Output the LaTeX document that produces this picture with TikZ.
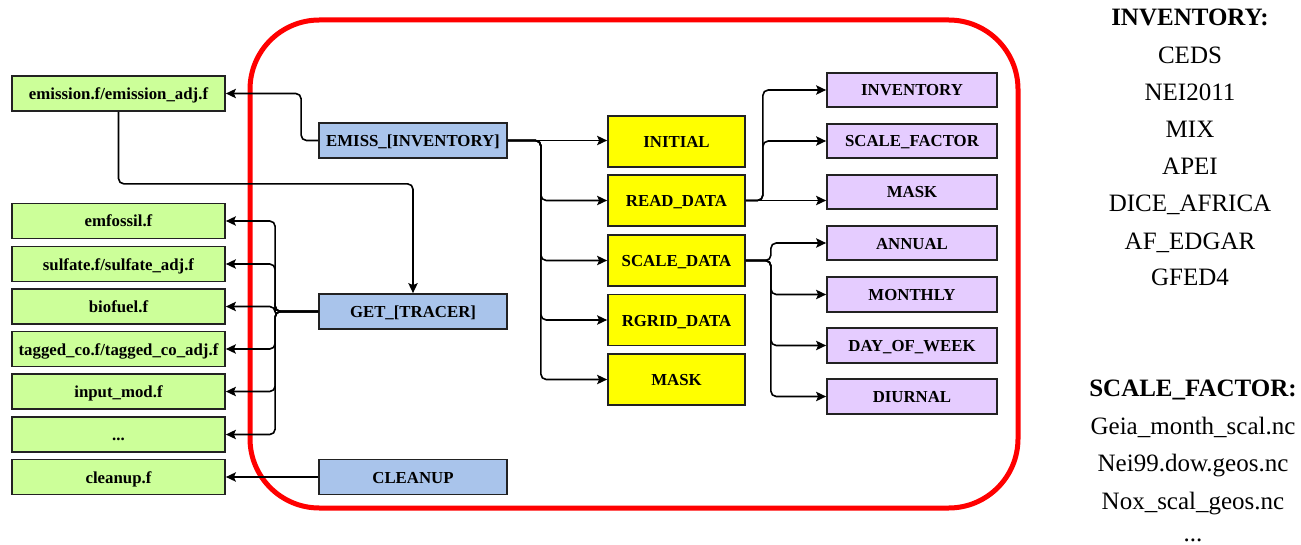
\documentclass[tikz,border=0pt]{standalone}
\usepackage{fontspec}
\setmainfont{Liberation Serif}
\newfontfamily\tnr{Liberation Serif}
\usetikzlibrary{arrows.meta,calc}
\definecolor{cgreen}{HTML}{CCFF99}
\definecolor{cblue}{HTML}{A9C4EB}
\definecolor{cyellow}{HTML}{FFFF00}
\definecolor{cpurple}{HTML}{E5CCFF}
\definecolor{cborder}{HTML}{222222}
\definecolor{cred}{HTML}{FF0000}
\tikzset{
  box/.style={draw=cborder, line width=1.3pt, inner sep=0pt, text height=0.9em, text depth=0em,
    font=\tnr\fontsize{12.6}{15}\selectfont\bfseries, align=center},
  gbox/.style={box, fill=cgreen, minimum width=159.75pt, minimum height=26.25pt},
  bbox/.style={box, fill=cblue, minimum width=141pt, minimum height=26.25pt},
  ybox/.style={box, fill=cyellow, minimum width=102.75pt, minimum height=38.25pt},
  pbox/.style={box, fill=cpurple, minimum width=127.5pt, minimum height=25.9pt},
  arr/.style={draw=black, line width=1.2pt, rounded corners=4pt, -{Stealth[length=7.5pt,width=7pt,inset=1.5pt]}},
  rtext/.style={inner sep=0pt, font=\tnr\fontsize{18.75}{22}\selectfont, anchor=base},
  rtitle/.style={rtext, font=\tnr\fontsize{18.75}{22}\selectfont\bfseries},
}
\begin{document}
\begin{tikzpicture}[x=0.75pt, y=-0.75pt]
\useasboundingbox (0,0) rectangle (1301,545);
\fill[white] (0,0) rectangle (1301,545);

% red container
\draw[cred, line width=3.75pt, rounded corners=52pt] (250,20) rectangle (1018,508);

% green boxes
\node[gbox] (emis)   at (118.5,93.5)  {emission.f/emission\_adj.f};
\node[gbox] (fos)    at (118.5,221)   {emfossil.f};
\node[gbox] (sul)    at (118.5,264)   {sulfate.f/sulfate\_adj.f};
\node[gbox] (bio)    at (118.5,306.5) {biofuel.f};
\node[gbox] (tag)    at (118.5,349)   {tagged\_co.f/tagged\_co\_adj.f};
\node[gbox] (inp)    at (118.5,391.5) {input\_mod.f};
\node[gbox] (dots)   at (118.5,434.5) {...};
\node[gbox] (cleanf) at (118.5,477)   {cleanup.f};

% blue boxes
\node[bbox] (emiss) at (413,140.5) {EMISS\_[INVENTORY]};
\node[bbox] (get)   at (413,311.5) {GET\_[TRACER]};
\node[bbox] (clean) at (413,477)   {CLEANUP};

% yellow boxes
\node[ybox] (init)  at (676.5,141.5) {INITIAL};
\node[ybox] (read)  at (676.5,200.5) {READ\_DATA};
\node[ybox] (scale) at (676.5,260.5) {SCALE\_DATA};
\node[ybox] (rgrid) at (676.5,320)   {RGRID\_DATA};
\node[ybox] (mask)  at (676.5,379.5) {MASK};

% purple boxes
\node[pbox] (pinv)   at (912,90)    {INVENTORY};
\node[pbox] (pscale) at (912,141)   {SCALE\_FACTOR};
\node[pbox] (pmask)  at (912,192)   {MASK};
\node[pbox] (pann)   at (912,243)   {ANNUAL};
\node[pbox] (pmon)   at (912,294.5) {MONTHLY};
\node[pbox] (pdow)   at (912,345.5) {DAY\_OF\_WEEK};
\node[pbox] (pdiu)   at (912,396.5) {DIURNAL};

% connectors left
\draw[arr] (emiss.west) -- ++(-17,0) |- (emis.east);
\draw[arr] (emis.south) -- ++(0,72) -| (get.north);
\draw[arr] (get.west) -- ++(-43,0) |- (fos.east);
\draw[arr] (get.west) -- ++(-43,0) |- (sul.east);
\draw[arr] (get.west) -- ++(-43,0) |- (bio.east);
\draw[arr] (get.west) -- ++(-43,0) |- (tag.east);
\draw[arr] (get.west) -- ++(-43,0) |- (inp.east);
\draw[arr] (get.west) -- ++(-43,0) |- (dots.east);
\draw[arr] (clean.west) -- (cleanf.east);

% connectors to yellow
\draw[arr] (emiss.east) -- (emiss.east -| init.west);
\draw[arr] (emiss.east) -- ++(33,0) |- (read.west);
\draw[arr] (emiss.east) -- ++(33,0) |- (scale.west);
\draw[arr] (emiss.east) -- ++(33,0) |- (rgrid.west);
\draw[arr] (emiss.east) -- ++(33,0) |- (mask.west);

% read_data -> purple
\draw[arr] (read.east) -- ++(17,0) |- (pinv.west);
\draw[arr] (read.east) -- ++(17,0) |- (pscale.west);
\draw[arr] (read.east) -- (read.east -| pmask.west);

% scale_data -> purple
\draw[arr] (scale.east) -- ++(25,0) |- (pann.west);
\draw[arr] (scale.east) -- ++(25,0) |- (pmon.west);
\draw[arr] (scale.east) -- ++(25,0) |- (pdow.west);
\draw[arr] (scale.east) -- ++(25,0) |- (pdiu.west);

% right-hand lists
\node[rtitle] (invt) at (1190,26) {INVENTORY:};
\node[rtext] (inv1) at (1190,64)  {CEDS};
\node[rtext] (inv2) at (1190,101) {NEI2011};
\node[rtext] (inv3) at (1190,138) {MIX};
\node[rtext] (inv4) at (1190,175) {APEI};
\node[rtext] (inv5) at (1190,212) {DICE\_AFRICA};
\node[rtext] (inv6) at (1190,249) {AF\_EDGAR};
\node[rtext] (inv7) at (1190,285) {GFED4};
\node[rtitle] (sft) at (1193,396) {SCALE\_FACTOR:};
\node[rtext] (sf1) at (1193,434) {Geia\_month\_scal.nc};
\node[rtext] (sf2) at (1193,471) {Nei99.dow.geos.nc};
\node[rtext] (sf3) at (1193,509) {Nox\_scal\_geos.nc};
\node[rtext] (sf4) at (1193,541) {...};
\end{tikzpicture}
\end{document}
